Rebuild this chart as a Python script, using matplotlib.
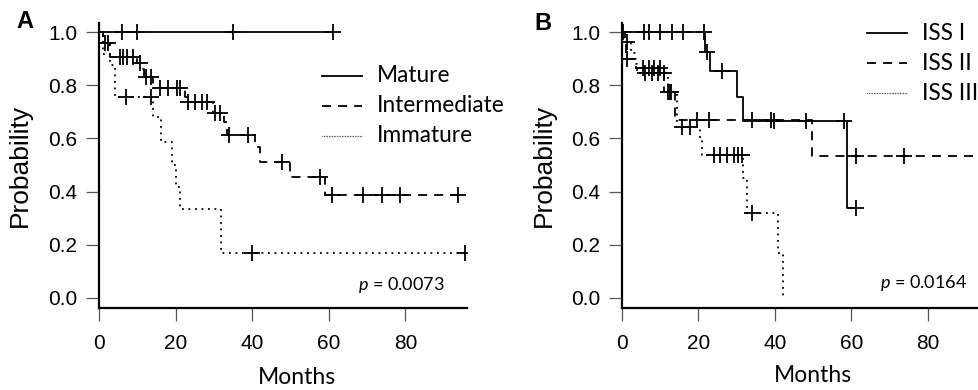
import numpy as np
import matplotlib
matplotlib.use("Agg")
import matplotlib.pyplot as plt
from matplotlib.lines import Line2D

plt.rcParams['font.family'] = ['Liberation Sans', 'DejaVu Sans']
plt.rcParams['mathtext.fontset'] = 'custom'
plt.rcParams['mathtext.it'] = 'Lato:italic'
plt.rcParams['mathtext.rm'] = 'Lato'

# ---- panel A : maturation groups ----
mature_events = []
mature_surv = []
mature_end = 61
mature_cens = [6, 10, 35, 61]

inter_events = [1.0, 2.9, 9.8, 11.1, 11.8, 14.2, 22.5, 23.0, 29.8, 32.6, 33.3, 40.7, 42.0, 49.9, 59.0]
inter_surv = [0.957, 0.907, 0.882, 0.86, 0.832, 0.788, 0.757, 0.736, 0.694, 0.663, 0.613, 0.569, 0.513, 0.456, 0.387]
inter_end = 93.8
inter_cens = [1.5, 2.3, 5.5, 6.3, 7.4, 9.0, 10.8, 12.3, 13.6, 15.9, 18.1, 20.3, 21.1, 23.3,
              25.1, 26.8, 28.3, 30.3, 31.6, 34.0, 39.0, 47.7, 57.7, 60.8, 69.0, 73.8, 78.6, 93.8]

immat_events = [1.0, 3.0, 4.2, 14.2, 16.1, 19.0, 20.0, 21.1, 31.9]
immat_surv = [0.917, 0.876, 0.754, 0.68, 0.585, 0.5, 0.417, 0.333, 0.168]
immat_end = 95.6
immat_cens = [7.0, 13.5, 39.9, 95.6]

# ---- panel B : ISS stage ----
iss1_events = [21.8, 23.1, 30.1, 31.8, 58.9]
iss1_surv = [0.926, 0.853, 0.757, 0.665, 0.337]
iss1_end = 61.1
iss1_cens = [0.4, 5.9, 7.0, 10.0, 13.2, 15.9, 21.4, 22.3, 26.2, 39.8, 48.0, 58.0, 61.1]

iss2_events = [0.8, 1.2, 3.8, 11.0, 14.0, 49.7]
iss2_surv = [0.962, 0.897, 0.863, 0.776, 0.669, 0.534]
iss2_end = 96
iss2_cens = [1.3, 5.6, 7.0, 8.5, 10.0, 12.5, 19.6, 22.7, 34.0, 39.0, 61.1, 73.7]

iss3_events = [0.5, 2.5, 3.5, 4.0, 12.0, 14.5, 20.5, 21.0, 31.8, 32.8, 40.7, 42.0]
iss3_surv = [0.962, 0.92, 0.88, 0.845, 0.774, 0.644, 0.59, 0.538, 0.45, 0.321, 0.168, 0.0]
iss3_end = 42.0
iss3_cens = [1.3, 6.0, 8.0, 9.5, 11.0, 12.0, 13.0, 15.7, 17.9, 24.0, 25.7, 27.5, 29.2, 30.5, 31.4, 34.0]

xticks = [0, 20, 40, 60, 80]
yticks = [0.0, 0.2, 0.4, 0.6, 0.8, 1.0]

LW = 1.3
DASH = (0, (5.0, 3.9))
DOT = (0, (1.0, 2.6))


def km_curve(ax, events, surv, end, cens, ls):
    t = np.concatenate([[0], events, [end]])
    s = np.concatenate([[1.0], surv, [surv[-1] if len(surv) else 1.0]])
    ax.step(t, s, where='post', color='black', lw=LW, linestyle=ls, solid_capstyle='butt')
    idx = np.searchsorted(np.asarray(events, dtype=float), cens, side='right')
    cy = np.concatenate([[1.0], surv])[idx]
    ax.plot(cens, cy, linestyle='none', marker='+', ms=12, mew=1.3, color='black')


def style_axes(ax):
    ax.set_xlim(0, 96.1)
    ax.set_ylim(-0.0376, 1.034)
    ax.spines['top'].set_visible(False)
    ax.spines['right'].set_visible(False)
    for s in ('left', 'bottom'):
        ax.spines[s].set_linewidth(1.6)
    ax.set_xticks(xticks)
    ax.set_yticks(yticks)
    ax.set_yticklabels([f'{v:.1f}' for v in yticks])
    ax.tick_params(length=9.5, width=0.9, color='#555555', labelsize=15, pad=6)
    ax.tick_params(axis='x', pad=9)
    ax.set_facecolor('none')


fig = plt.figure(figsize=(9.79, 3.9), dpi=100)
axA = fig.add_axes([0.10112, 0.21026, 0.37589, 0.73077])
axB = fig.add_axes([0.63504, 0.21026, 0.37589, 0.73077])

km_curve(axA, mature_events, mature_surv, mature_end, mature_cens, '-')
km_curve(axA, inter_events, inter_surv, inter_end, inter_cens, DASH)
km_curve(axA, immat_events, immat_surv, immat_end, immat_cens, DOT)

km_curve(axB, iss1_events, iss1_surv, iss1_end, iss1_cens, '-')
km_curve(axB, iss2_events, iss2_surv, iss2_end, iss2_cens, DASH)
km_curve(axB, iss3_events, iss3_surv, iss3_end, iss3_cens, DOT)

for ax in (axA, axB):
    style_axes(ax)

W, H = 979, 390


def fx(px):
    return px / W


def fy(py):
    return 1 - py / H


# y labels
fig.text(fx(20), fy(165), 'Probability', rotation=90, ha='center', va='center', fontsize=19)
fig.text(fx(544), fy(165), 'Probability', rotation=90, ha='center', va='center', fontsize=19)
# x labels
fig.text(fx(297), fy(377), 'Months', ha='center', va='center', fontsize=16.5, family='Lato')
fig.text(fx(813), fy(375), 'Months', ha='center', va='center', fontsize=16.5, family='Lato')
# panel letters
fig.text(fx(25), fy(22), 'A', ha='center', va='center', fontsize=17, fontweight='bold')
fig.text(fx(543), fy(24), 'B', ha='center', va='center', fontsize=17, fontweight='bold')

# legends
legA = ['Mature', 'Intermediate', 'Immature']
legB = ['ISS I', 'ISS II', 'ISS III']
styles = ['-', DASH, (0, (0.5, 0.8))]
for labels, x0, y0 in ((legA, 321.7, 76), (legB, 866.7, 33)):
    for i, (lab, ls) in enumerate(zip(labels, styles)):
        yy = y0 + 30 * i
        fig.add_artist(Line2D([fx(x0), fx(x0 + 40)], [fy(yy), fy(yy)], color='black',
                              lw=LW if i < 2 else 0.9, linestyle=ls))
        fig.text(fx(x0 + 55), fy(yy), lab, ha='left', va='center', fontsize=16.3, family='Lato')

# p values
fig.text(fx(358), fy(285), r'$\it{p}$ = 0.0073', ha='left', va='center', fontsize=13, family='Lato')
fig.text(fx(880), fy(283), r'$\it{p}$ = 0.0164', ha='left', va='center', fontsize=13, family='Lato')

fig.savefig('out.png', dpi=100)
